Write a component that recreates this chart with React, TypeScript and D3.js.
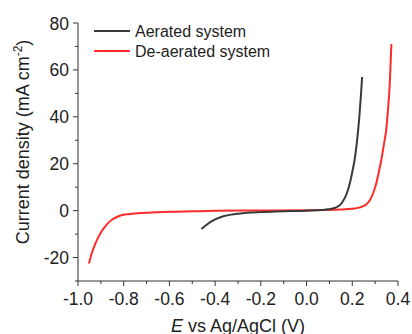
import React from "react";
import * as d3 from "d3";

const aeratedE = [-0.46, -0.44, -0.42, -0.40, -0.38, -0.36, -0.33, -0.30, -0.26, -0.20, -0.10, 0.0, 0.08, 0.11, 0.13, 0.15, 0.165, 0.18, 0.19, 0.20, 0.21, 0.22, 0.23, 0.237, 0.243];
const aeratedJ = [-7.8, -6.2, -4.8, -3.7, -2.9, -2.3, -1.7, -1.3, -0.9, -0.6, -0.3, 0.0, 0.4, 0.8, 1.4, 2.8, 5.0, 8.5, 12, 16.5, 21.6, 29, 39, 48, 57];

const deaeratedE = [-0.952, -0.94, -0.925, -0.91, -0.895, -0.88, -0.865, -0.85, -0.83, -0.81, -0.78, -0.74, -0.68, -0.60, -0.50, -0.40, -0.20, 0.0, 0.15, 0.20, 0.23, 0.25, 0.265, 0.28, 0.295, 0.305, 0.315, 0.327, 0.338, 0.349, 0.357, 0.364, 0.371];
const deaeratedJ = [-22.5, -18.3, -14.3, -11.2, -8.6, -6.6, -5.0, -3.8, -2.7, -2.0, -1.5, -1.1, -0.8, -0.5, -0.3, -0.1, 0.05, 0.2, 0.5, 0.8, 1.3, 2.0, 3.0, 5.0, 8.5, 11.7, 16, 21.6, 28, 35, 44, 54, 71];

const xMajor = [-1.0, -0.8, -0.6, -0.4, -0.2, 0.0, 0.2, 0.4];
const xMinor = [-0.9, -0.7, -0.5, -0.3, -0.1, 0.1, 0.3];
const yMajor = [-20, 0, 20, 40, 60, 80];
const yMinor = [-30, -10, 10, 30, 50, 70];

const seriesNames = ["Aerated system", "De-aerated system"];
const seriesColors = ["#3a3a3a", "#ff2b2b"];

const W = 412, H = 334;
const left = 78, right = 398, top = 23, bottom = 281;

export default function App() {
  const x = d3.scaleLinear().domain([-1.0, 0.4]).range([left, right]);
  const y = d3.scaleLinear().domain([-30, 80]).range([bottom, top]);
  const line = d3.line<[number, number]>().x(d => x(d[0])).y(d => y(d[1])).curve(d3.curveMonotoneX);
  const a: [number, number][] = aeratedE.map((e, i) => [e, aeratedJ[i]]);
  const b: [number, number][] = deaeratedE.map((e, i) => [e, deaeratedJ[i]]);
  const font = "Liberation Sans, Arial, sans-serif";
  const axisColor = "#333";
  return (
    <svg width={W} height={H} style={{ position: "absolute", left: 0, top: 0, background: "#fff" }} fontFamily={font}>
      <path d={line(b) || ""} fill="none" stroke={seriesColors[1]} strokeWidth={2} />
      <path d={line(a) || ""} fill="none" stroke={seriesColors[0]} strokeWidth={2} />
      {/* axes */}
      <line x1={left} x2={left} y1={top} y2={bottom} stroke={axisColor} strokeWidth={1} />
      <line x1={left} x2={right} y1={bottom} y2={bottom} stroke={axisColor} strokeWidth={1} />
      {xMajor.map(v => (
        <g key={"xm" + v}>
          <line x1={x(v)} x2={x(v)} y1={bottom} y2={bottom + 5} stroke={axisColor} />
          <text x={x(v)} y={bottom + 24} textAnchor="middle" fontSize={17.5} fill="#222">{d3.format(".1f")(v).replace("−", "-")}</text>
        </g>
      ))}
      {xMinor.map(v => (
        <line key={"xn" + v} x1={x(v)} x2={x(v)} y1={bottom} y2={bottom + 3} stroke={axisColor} />
      ))}
      {yMajor.map(v => (
        <g key={"ym" + v}>
          <line x1={left - 5} x2={left} y1={y(v)} y2={y(v)} stroke={axisColor} />
          <text x={left - 9} y={y(v) + 6.5} textAnchor="end" fontSize={17.5} fill="#222">{String(v)}</text>
        </g>
      ))}
      {yMinor.map(v => (
        <line key={"yn" + v} x1={left - 3} x2={left} y1={y(v)} y2={y(v)} stroke={axisColor} />
      ))}
      {/* axis titles */}
      <text transform={`translate(29, 142) rotate(-90)`} textAnchor="middle" fontSize={18} fill="#222">
        Current density (mA cm<tspan dy={-7} fontSize={12}>-2</tspan><tspan dy={7}>)</tspan>
      </text>
      <text x={238} y={332} textAnchor="middle" fontSize={18} fill="#222">
        <tspan fontStyle="italic">E</tspan> vs Ag/AgCl (V)
      </text>
      {/* legend */}
      {seriesNames.map((n, i) => (
        <g key={n}>
          <line x1={94} x2={130} y1={31 + i * 20} y2={31 + i * 20} stroke={seriesColors[i]} strokeWidth={2} />
          <text x={135} y={37 + i * 20} fontSize={16} fill="#222">{n}</text>
        </g>
      ))}
    </svg>
  );
}
